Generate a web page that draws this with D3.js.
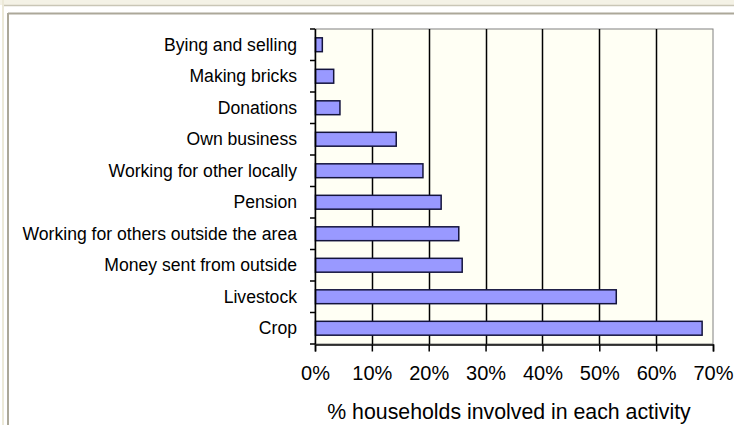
<!DOCTYPE html>
<html>
<head>
<meta charset="utf-8">
<script src="https://cdn.jsdelivr.net/npm/d3@7"></script>
<style>
  body { margin: 0; background: #fff; }
  svg { display: block; }
  .cat text { font-family: "Liberation Sans", Arial, sans-serif; font-size: 17.6px; fill: #000; }
  .xax text { font-family: "Liberation Sans", Arial, sans-serif; font-size: 20px; fill: #000; }
</style>
</head>
<body>
<svg id="chart" width="734" height="425"></svg>
<script>
const categories = [
  "Bying and selling",
  "Making bricks",
  "Donations",
  "Own business",
  "Working for other locally",
  "Pension",
  "Working for others outside the area",
  "Money sent from outside",
  "Livestock",
  "Crop"
]
const values = [1.2, 3.2, 4.3, 14.2, 18.9, 22.1, 25.2, 25.8, 52.9, 68.0]
const xTicks = [0, 10, 20, 30, 40, 50, 60, 70]
const xTitle = "% households involved in each activity"

const width = 734, height = 425
const plot = { left: 315, right: 713, top: 29, bottom: 344 }

const svg = d3.select('#chart')

// window frame
svg.append('rect').attr('x', 0).attr('y', 0).attr('width', width).attr('height', height).attr('fill', '#fff')
svg.append('rect').attr('x', 0).attr('y', 0).attr('width', width).attr('height', 5).attr('fill', '#f4f2e6')
svg.append('rect').attr('x', 2).attr('y', 0).attr('width', 2).attr('height', height).attr('fill', '#ece9d8')
svg.append('line').attr('x1', 4).attr('x2', width).attr('y1', 5.5).attr('y2', 5.5).attr('stroke', '#c9c6b6').attr('stroke-width', 1.5)
svg.append('line').attr('x1', 8).attr('x2', width).attr('y1', 13.5).attr('y2', 13.5).attr('stroke', '#aca899').attr('stroke-width', 2)
svg.append('line').attr('x1', 8).attr('x2', 8).attr('y1', 13).attr('y2', height).attr('stroke', '#aca899').attr('stroke-width', 2)

const xScale = d3.scaleLinear()
  .domain([0, 70])
  .range([plot.left, plot.right])
const yScale = d3.scaleBand()
  .domain(categories)
  .range([plot.top, plot.bottom])
  .paddingInner(0.56)
  .paddingOuter(0.28)

// plot area
svg.append('rect')
  .attr('x', plot.left).attr('y', plot.top)
  .attr('width', plot.right - plot.left).attr('height', plot.bottom - plot.top)
  .attr('fill', '#fffff4')
  .attr('stroke', '#808080')

// gridlines
svg.append('g')
  .selectAll('line')
  .data(xTicks.slice(1, -1))
  .enter()
  .append('line')
  .attr('x1', d => Math.round(xScale(d)) + 0.5)
  .attr('x2', d => Math.round(xScale(d)) + 0.5)
  .attr('y1', plot.top)
  .attr('y2', plot.bottom)
  .attr('stroke', '#000')
  .attr('stroke-width', 1.5)

// bars
svg.append('g')
  .selectAll('rect')
  .data(values)
  .enter()
  .append('rect')
  .attr('x', xScale(0) + 0.5)
  .attr('y', (d, i) => yScale(categories[i]))
  .attr('width', d => xScale(d) - xScale(0))
  .attr('height', yScale.bandwidth())
  .attr('fill', '#9999ff')
  .attr('stroke', '#14143c')
  .attr('stroke-width', 1.5)

// y axis: ticks at category boundaries
const step = yScale.step()
const yAxis = svg.append('g').attr('class', 'cat')
yAxis.append('line')
  .attr('x1', plot.left + 0.5).attr('x2', plot.left + 0.5)
  .attr('y1', plot.top).attr('y2', plot.bottom)
  .attr('stroke', '#000').attr('stroke-width', 1.5)
yAxis.selectAll('line.tick')
  .data(d3.range(categories.length + 1))
  .enter()
  .append('line')
  .attr('class', 'tick')
  .attr('x1', plot.left - 5).attr('x2', plot.left)
  .attr('y1', i => plot.top + i * step)
  .attr('y2', i => plot.top + i * step)
  .attr('stroke', '#000').attr('stroke-width', 1.5)
yAxis.selectAll('text')
  .data(categories)
  .enter()
  .append('text')
  .attr('x', 297)
  .attr('y', d => yScale(d) + yScale.bandwidth() / 2)
  .attr('dy', '0.35em')
  .attr('text-anchor', 'end')
  .text(d => d)

// x axis
const xAxis = d3.axisBottom(xScale)
  .tickValues(xTicks)
  .tickFormat(d => d + '%')
  .tickSize(7)
  .tickPadding(14)
svg.append('g')
  .attr('class', 'xax')
  .attr('transform', 'translate(0,' + (plot.bottom + 0.5) + ')')
  .call(xAxis)
  .call(g => g.select('.domain').attr('stroke-width', 1.5))
  .call(g => g.selectAll('.tick line').attr('stroke-width', 1.5))
  .call(g => g.selectAll('.tick text').attr('font-family', null).attr('font-size', null))

svg.append('text')
  .attr('x', 509)
  .attr('y', 419)
  .attr('text-anchor', 'middle')
  .attr('font-family', '"Liberation Sans", Arial, sans-serif')
  .attr('font-size', 21.3)
  .text(xTitle)
</script>
</body>
</html>
